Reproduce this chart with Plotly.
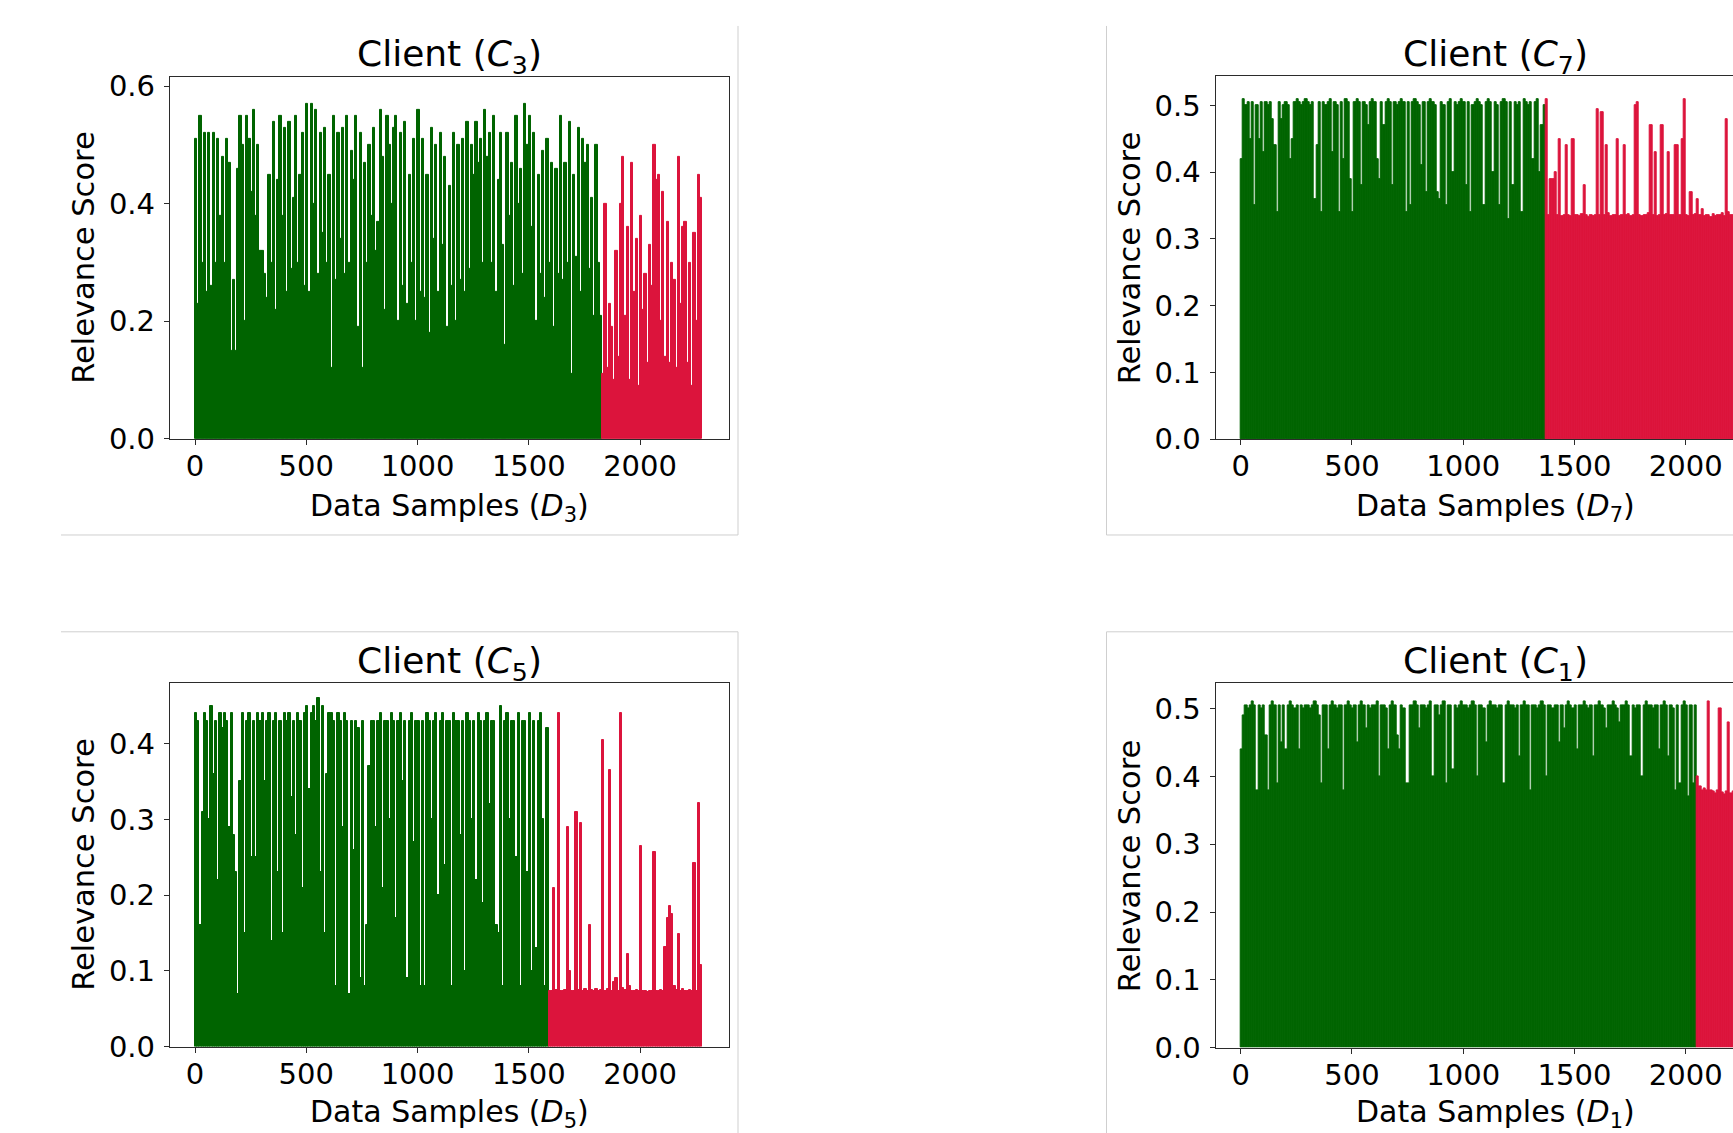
import plotly.graph_objects as go

W, H = 1733, 1150
FONT = "DejaVu Sans"
GREEN = "#006400"
RED = "#DC143C"
AX = "#2b2b2b"
BIN = 10  # samples per drawn bar

# ---------------- data (relevance score per 10-sample bin) ----------------
c3_normal = [
    0.51, 0.23, 0.55, 0.30, 0.52, 0.25, 0.52, 0.26, 0.52, 0.30,
    0.51, 0.38, 0.48, 0.30, 0.51, 0.47, 0.15, 0.27, 0.15, 0.46,
    0.55, 0.50, 0.20, 0.55, 0.51, 0.42, 0.56, 0.38, 0.50, 0.32,
    0.32, 0.28, 0.24, 0.45, 0.30, 0.54, 0.22, 0.44, 0.55, 0.38,
    0.53, 0.25, 0.54, 0.29, 0.41, 0.55, 0.30, 0.45, 0.52, 0.26,
    0.57, 0.25, 0.57, 0.40, 0.56, 0.28, 0.52, 0.35, 0.53, 0.30,
    0.45, 0.12, 0.55, 0.27, 0.52, 0.34, 0.53, 0.28, 0.55, 0.30,
    0.49, 0.44, 0.55, 0.19, 0.52, 0.12, 0.47, 0.30, 0.50, 0.38,
    0.53, 0.32, 0.37, 0.56, 0.48, 0.22, 0.55, 0.50, 0.40, 0.53,
    0.55, 0.20, 0.52, 0.26, 0.54, 0.23, 0.45, 0.30, 0.51, 0.20,
    0.56, 0.25, 0.51, 0.24, 0.45, 0.18, 0.53, 0.34, 0.50, 0.25,
    0.52, 0.33, 0.48, 0.19, 0.43, 0.26, 0.52, 0.20, 0.50, 0.27,
    0.51, 0.25, 0.54, 0.29, 0.50, 0.45, 0.54, 0.47, 0.51, 0.30,
    0.56, 0.48, 0.52, 0.30, 0.55, 0.25, 0.44, 0.52, 0.33, 0.16,
    0.52, 0.38, 0.47, 0.26, 0.55, 0.40, 0.46, 0.28, 0.57, 0.50,
    0.55, 0.36, 0.52, 0.20, 0.45, 0.28, 0.49, 0.24, 0.51, 0.30,
    0.47, 0.19, 0.46, 0.28, 0.55, 0.27, 0.47, 0.30, 0.54, 0.11,
    0.45, 0.31, 0.53, 0.25, 0.51, 0.47, 0.50, 0.29, 0.41, 0.21,
    0.50, 0.30, 0.21,
]
c3_poisoned = [
    0.11, 0.40, 0.12, 0.23, 0.19, 0.10, 0.32, 0.14, 0.40, 0.48,
    0.21, 0.36, 0.10, 0.47, 0.25, 0.34, 0.09, 0.38, 0.22, 0.28,
    0.13, 0.33, 0.26, 0.50, 0.44, 0.45, 0.20, 0.42, 0.14, 0.37,
    0.13, 0.30, 0.27, 0.12, 0.48, 0.23, 0.36, 0.37, 0.13, 0.30,
    0.09, 0.35, 0.20, 0.45, 0.41,
]

c7_normal = [
    0.42, 0.51, 0.50, 0.505, 0.45, 0.505, 0.35, 0.50, 0.45, 0.505,
    0.43, 0.505, 0.50, 0.505, 0.48, 0.44, 0.34, 0.505, 0.48, 0.50,
    0.505, 0.50, 0.42, 0.45, 0.505, 0.51, 0.505, 0.50, 0.505, 0.51,
    0.505, 0.50, 0.505, 0.36, 0.44, 0.505, 0.34, 0.505, 0.50, 0.505,
    0.51, 0.43, 0.505, 0.50, 0.34, 0.505, 0.42, 0.51, 0.505, 0.39,
    0.34, 0.505, 0.51, 0.505, 0.38, 0.505, 0.50, 0.47, 0.505, 0.51,
    0.505, 0.42, 0.39, 0.505, 0.47, 0.505, 0.51, 0.505, 0.38, 0.505,
    0.50, 0.505, 0.51, 0.505, 0.34, 0.505, 0.35, 0.505, 0.51, 0.505,
    0.50, 0.41, 0.505, 0.37, 0.505, 0.51, 0.505, 0.50, 0.37, 0.36,
    0.505, 0.50, 0.35, 0.505, 0.51, 0.40, 0.505, 0.50, 0.505, 0.51,
    0.505, 0.38, 0.505, 0.34, 0.50, 0.505, 0.51, 0.505, 0.50, 0.35,
    0.505, 0.51, 0.505, 0.40, 0.505, 0.50, 0.35, 0.505, 0.51, 0.505,
    0.33, 0.505, 0.38, 0.505, 0.50, 0.505, 0.34, 0.51, 0.505, 0.50,
    0.505, 0.42, 0.505, 0.51, 0.40, 0.47, 0.50,
]
c7_poisoned = [
    0.51, 0.335, 0.39, 0.39, 0.40, 0.335, 0.45, 0.334, 0.336, 0.44,
    0.335, 0.334, 0.45, 0.336, 0.335, 0.334, 0.337, 0.38, 0.335, 0.333,
    0.336, 0.334, 0.335, 0.495, 0.336, 0.49, 0.335, 0.44, 0.338, 0.334,
    0.336, 0.335, 0.45, 0.334, 0.336, 0.44, 0.335, 0.337, 0.334, 0.336,
    0.50, 0.505, 0.335, 0.334, 0.336, 0.335, 0.338, 0.47, 0.335, 0.43,
    0.334, 0.336, 0.47, 0.335, 0.337, 0.43, 0.335, 0.336, 0.44, 0.44,
    0.335, 0.45, 0.51, 0.336, 0.334, 0.37, 0.335, 0.337, 0.36, 0.335,
    0.345, 0.334, 0.336, 0.335, 0.333, 0.337, 0.334, 0.336, 0.335, 0.338,
    0.334, 0.48, 0.34, 0.335, 0.336, 0.334, 0.335, 0.336, 0.334, 0.335,
    0.336,
]

c5_normal = [
    0.44, 0.43, 0.16, 0.31, 0.44, 0.43, 0.30, 0.45, 0.36, 0.43,
    0.22, 0.44, 0.42, 0.44, 0.43, 0.29, 0.44, 0.28, 0.23, 0.07,
    0.35, 0.44, 0.15, 0.43, 0.44, 0.25, 0.43, 0.25, 0.44, 0.43,
    0.44, 0.35, 0.43, 0.44, 0.14, 0.43, 0.44, 0.23, 0.43, 0.15,
    0.44, 0.43, 0.44, 0.33, 0.43, 0.28, 0.44, 0.43, 0.21, 0.44,
    0.45, 0.34, 0.44, 0.45, 0.43, 0.46, 0.23, 0.45, 0.15, 0.36,
    0.44, 0.44, 0.43, 0.08, 0.44, 0.43, 0.29, 0.44, 0.43, 0.07,
    0.43, 0.26, 0.43, 0.42, 0.09, 0.43, 0.08, 0.16, 0.37, 0.43,
    0.43, 0.29, 0.43, 0.44, 0.21, 0.43, 0.43, 0.30, 0.44, 0.43,
    0.17, 0.43, 0.44, 0.35, 0.43, 0.09, 0.43, 0.44, 0.27, 0.43,
    0.43, 0.08, 0.43, 0.08, 0.44, 0.43, 0.30, 0.43, 0.44, 0.20,
    0.43, 0.44, 0.24, 0.43, 0.43, 0.08, 0.44, 0.43, 0.43, 0.28,
    0.43, 0.10, 0.44, 0.43, 0.30, 0.43, 0.22, 0.44, 0.43, 0.19,
    0.43, 0.44, 0.32, 0.43, 0.43, 0.16, 0.15, 0.45, 0.08, 0.43,
    0.44, 0.30, 0.43, 0.43, 0.25, 0.44, 0.08, 0.43, 0.43, 0.23,
    0.44, 0.10, 0.43, 0.13, 0.43, 0.44, 0.30, 0.08, 0.42,
]
c5_poisoned = [
    0.073, 0.074, 0.21, 0.075, 0.44, 0.073, 0.074, 0.075, 0.29, 0.10,
    0.074, 0.073, 0.31, 0.075, 0.295, 0.074, 0.076, 0.073, 0.16, 0.075,
    0.074, 0.076, 0.073, 0.075, 0.405, 0.074, 0.076, 0.365, 0.074, 0.085,
    0.091, 0.074, 0.44, 0.078, 0.075, 0.122, 0.08, 0.074, 0.073, 0.075,
    0.074, 0.265, 0.073, 0.074, 0.072, 0.074, 0.073, 0.257, 0.074, 0.073,
    0.075, 0.074, 0.132, 0.17, 0.185, 0.175, 0.08, 0.075, 0.148, 0.074,
    0.076, 0.073, 0.074, 0.075, 0.073, 0.243, 0.074, 0.322, 0.108,
]

c1_normal = [
    0.44, 0.49, 0.505, 0.50, 0.505, 0.51, 0.505, 0.38, 0.505, 0.50,
    0.505, 0.46, 0.38, 0.505, 0.51, 0.505, 0.39, 0.505, 0.45, 0.505,
    0.44, 0.505, 0.51, 0.505, 0.50, 0.505, 0.44, 0.505, 0.50, 0.505,
    0.505, 0.50, 0.505, 0.51, 0.505, 0.49, 0.39, 0.505, 0.505, 0.44,
    0.505, 0.51, 0.505, 0.50, 0.505, 0.505, 0.38, 0.505, 0.51, 0.505,
    0.50, 0.505, 0.45, 0.505, 0.51, 0.505, 0.47, 0.505, 0.50, 0.505,
    0.505, 0.51, 0.40, 0.505, 0.505, 0.50, 0.44, 0.505, 0.51, 0.505,
    0.46, 0.44, 0.505, 0.50, 0.39, 0.39, 0.505, 0.505, 0.51, 0.505,
    0.47, 0.505, 0.505, 0.50, 0.505, 0.51, 0.40, 0.505, 0.505, 0.49,
    0.505, 0.51, 0.39, 0.505, 0.505, 0.41, 0.505, 0.50, 0.505, 0.51,
    0.505, 0.505, 0.50, 0.505, 0.51, 0.505, 0.40, 0.505, 0.505, 0.50,
    0.45, 0.505, 0.51, 0.505, 0.505, 0.50, 0.505, 0.505, 0.39, 0.505,
    0.51, 0.505, 0.505, 0.50, 0.505, 0.43, 0.505, 0.51, 0.505, 0.505,
    0.38, 0.505, 0.505, 0.50, 0.505, 0.51, 0.505, 0.40, 0.505, 0.505,
    0.50, 0.505, 0.505, 0.45, 0.505, 0.47, 0.505, 0.51, 0.505, 0.50,
    0.505, 0.44, 0.505, 0.505, 0.51, 0.505, 0.50, 0.505, 0.43, 0.505,
    0.505, 0.51, 0.505, 0.50, 0.47, 0.505, 0.505, 0.51, 0.505, 0.50,
    0.48, 0.505, 0.505, 0.51, 0.505, 0.43, 0.505, 0.50, 0.505, 0.505,
    0.40, 0.505, 0.51, 0.505, 0.505, 0.50, 0.505, 0.505, 0.44, 0.505,
    0.51, 0.505, 0.43, 0.505, 0.50, 0.38, 0.505, 0.39, 0.505, 0.51,
    0.505, 0.37, 0.505, 0.39, 0.505,
]
c1_poisoned = [
    0.40, 0.385, 0.38, 0.382, 0.379, 0.51, 0.38, 0.378, 0.375, 0.38,
    0.50, 0.376, 0.373, 0.378, 0.48, 0.375, 0.378, 0.376, 0.38, 0.374,
    0.377, 0.375, 0.378,
]

x_ticks = [0, 500, 1000, 1500, 2000]
y_ticks_c3 = [0.0, 0.2, 0.4, 0.6]
y_ticks_c7 = [0.0, 0.1, 0.2, 0.3, 0.4, 0.5]
y_ticks_c5 = [0.0, 0.1, 0.2, 0.3, 0.4]
y_ticks_c1 = [0.0, 0.1, 0.2, 0.3, 0.4, 0.5]

# ---------------- layout geometry (target pixels in the final picture) ----------------
panels = [
    dict(client="3", normal=c3_normal, poisoned=c3_poisoned, yticks=y_ticks_c3,
         box=(170.0, 729.3, 75.0, 437.7), xrange=(-112.4, 2401.0), ytop=0.616,
         left=True, cx=449.7, title_y=55, xlab_y=506),
    dict(client="7", normal=c7_normal, poisoned=c7_poisoned, yticks=y_ticks_c7,
         box=(1215.7, 1733.0, 74.3, 437.9), xrange=(-112.4, 2212.2), ytop=0.544,
         left=False, cx=1495.3, title_y=55, xlab_y=506),
    dict(client="5", normal=c5_normal, poisoned=c5_poisoned, yticks=y_ticks_c5,
         box=(170.0, 729.3, 682.3, 1046.6), xrange=(-112.4, 2401.0), ytop=0.48,
         left=True, cx=449.7, title_y=663, xlab_y=1114),
    dict(client="1", normal=c1_normal, poisoned=c1_poisoned, yticks=y_ticks_c1,
         box=(1215.7, 1733.0, 682.7, 1047.7), xrange=(-112.4, 2212.2), ytop=0.537,
         left=False, cx=1495.3, title_y=663, xlab_y=1114),
]

# the page is photographed with a slight vertical squeeze; pre-compensate
Y_OFF, Y_SCALE = 5.0, 0.981


def px(x):
    return x / W


def py(t):
    return 1 - ((t - Y_OFF) / Y_SCALE) / H


fig = go.Figure()
layout = dict(
    width=W, height=H, margin=dict(l=0, r=0, t=0, b=0, pad=0),
    paper_bgcolor="white", plot_bgcolor="white", showlegend=False,
    bargap=0, barmode="overlay", font=dict(family=FONT, color="#000"),
)
annotations = []
tickfont = dict(family=FONT, size=29, color="#000")

for i, p in enumerate(panels):
    s = "" if i == 0 else str(i + 1)
    n_norm = len(p["normal"])
    x_norm = [BIN * k + (BIN - 1) / 2 for k in range(n_norm)]
    x_pois = [BIN * (n_norm + k) + (BIN - 1) / 2 for k in range(len(p["poisoned"]))]
    for xs, ys, col in ((x_norm, p["normal"], GREEN), (x_pois, p["poisoned"], RED)):
        fig.add_trace(go.Bar(
            x=xs, y=ys, width=BIN, xaxis="x" + s, yaxis="y" + s,
            marker=dict(color=col, line=dict(color=col, width=1)),
            hoverinfo="skip",
        ))
    x0, x1, y0, y1 = p["box"]
    layout["xaxis" + s] = dict(
        domain=[px(x0), px(x1)], range=list(p["xrange"]), anchor="y" + s,
        tickvals=x_ticks, ticks="outside", ticklen=5, tickwidth=1.3, tickcolor=AX,
        showline=True, linecolor=AX, linewidth=1.4, mirror=True,
        showgrid=False, zeroline=False, tickfont=tickfont, ticklabelstandoff=-4,
    )
    layout["yaxis" + s] = dict(
        domain=[py(y1), py(y0)], range=[0, p["ytop"]], anchor="x" + s,
        tickvals=p["yticks"], tickformat=".1f", ticks="outside", ticklen=5,
        tickwidth=1.3, tickcolor=AX, showline=True, linecolor=AX, linewidth=1.4,
        mirror=p["left"], showgrid=False, zeroline=False, tickfont=tickfont,
        ticklabelstandoff=3,
    )
    c = p["client"]
    annotations.append(dict(
        text=f"Client (<i>C</i><sub>{c}</sub>)", x=px(p["cx"]), y=py(p["title_y"]),
        xref="paper", yref="paper", xanchor="center", yanchor="middle",
        showarrow=False, font=dict(family=FONT, size=36, color="#000"),
    ))
    annotations.append(dict(
        text=f"Data Samples (<i>D</i><sub>{c}</sub>)", x=px(p["cx"]), y=py(p["xlab_y"]),
        xref="paper", yref="paper", xanchor="center", yanchor="middle",
        showarrow=False, font=dict(family=FONT, size=30, color="#000"),
    ))
    annotations.append(dict(
        text="Relevance Score", x=px(x0 - 86), y=py((y0 + y1) / 2),
        xref="paper", yref="paper", xanchor="center", yanchor="middle",
        textangle=-90, showarrow=False, font=dict(family=FONT, size=30.5, color="#000"),
    ))

frame_lines = [
    (738, 24, 738, 534), (61, 534, 738, 534),
    (61, 631, 738, 631), (738, 631, 738, 1140),
    (1106.5, 24, 1106.5, 534), (1106.5, 534, 1733, 534),
    (1106.5, 631, 1733, 631), (1106.5, 631, 1106.5, 1140),
]
shapes = [
    dict(type="line", xref="paper", yref="paper", x0=px(a), y0=py(b), x1=px(c), y1=py(d),
         line=dict(color="#cfcfcf", width=1), layer="below")
    for a, b, c, d in frame_lines
]

layout["annotations"] = annotations
layout["shapes"] = shapes
fig.update_layout(**layout)
fig.write_html(
    "out.html",
    config={"displayModeBar": False, "responsive": False},
    post_script=(
        "var gd=document.getElementById('{plot_id}');"
        "document.documentElement.style.margin='0';"
        "document.documentElement.style.overflow='hidden';"
        "document.body.style.margin='0';"
        "document.body.style.overflow='hidden';"
        "gd.style.position='absolute';gd.style.left='0px';gd.style.top='0px';"
    ),
)
